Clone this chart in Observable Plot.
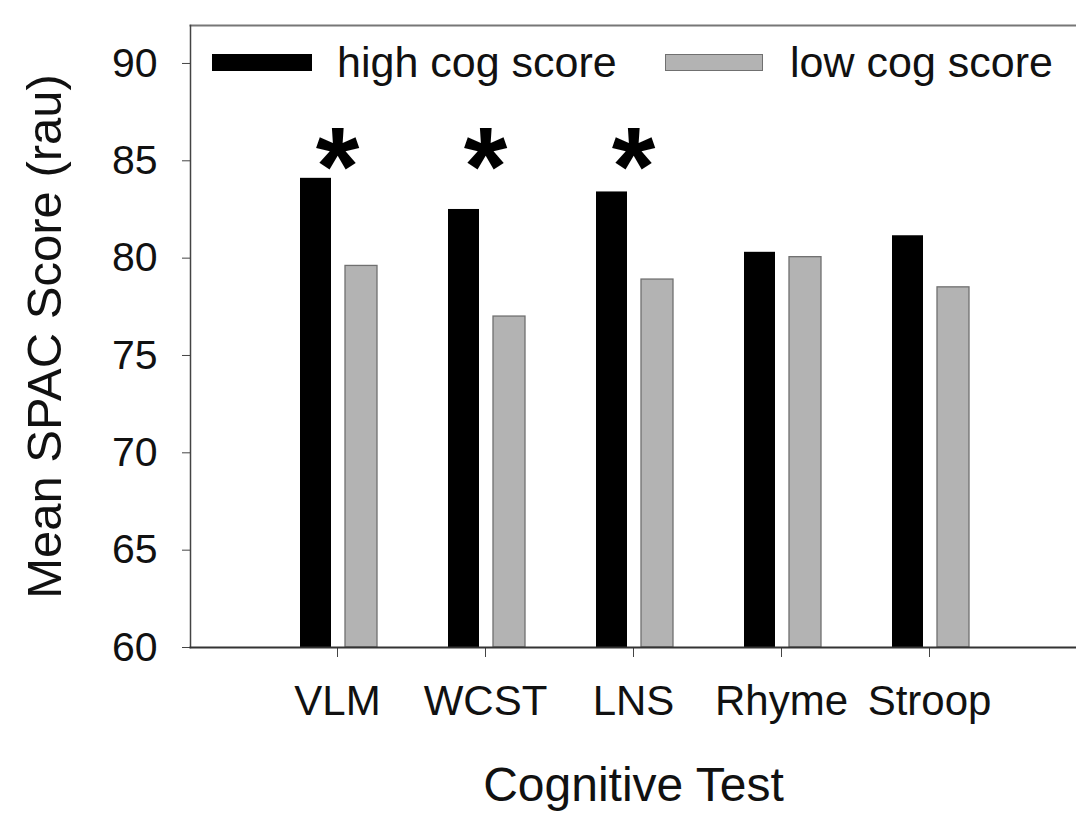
<!DOCTYPE html>
<html><head><meta charset="utf-8">
<script src="https://cdn.jsdelivr.net/npm/d3@7"></script>
<script src="https://cdn.jsdelivr.net/npm/@observablehq/plot@0.6"></script>
<style>
html,body{margin:0;padding:0;background:#fff;overflow:hidden}
#wrap{position:relative;width:1076px;height:817px;font-family:'Liberation Sans',Arial,sans-serif}
.sw{position:absolute;height:17px}
.lt{position:absolute;font-size:43px;line-height:43px;color:#111;white-space:nowrap}
g[aria-label="y-axis label"] text{font-size:49px}
g[aria-label="x-axis label"] text{font-size:48px}
</style></head><body><div id="wrap"></div>
<script>
const tests = ["VLM", "WCST", "LNS", "Rhyme", "Stroop"];
const highScores = [84.1, 82.5, 83.4, 80.3, 81.15];
const lowScores = [79.6, 77.0, 78.9, 80.05, 78.5];
const sigTests = ["VLM", "WCST", "LNS"];
const sigLevel = [85.6, 85.6, 85.6];
const yTicks = [60, 65, 70, 75, 80, 85, 90];
const seriesNames = ["high cog score", "low cog score"];

const highData = tests.map((t, i) => ({test: t, value: highScores[i]}));
const lowData = tests.map((t, i) => ({test: t, value: lowScores[i]}));
const sigData = sigTests.map((t, i) => ({test: t, y: sigLevel[i]}));

const chart = Plot.plot({
  width: 1076, height: 817,
  marginLeft: 190, marginRight: 0, marginTop: 25, marginBottom: 170,
  style: {fontFamily: "'Liberation Sans', Arial, sans-serif", fontSize: "41px", color: "#111", background: "#fff"},
  x: {domain: tests, paddingInner: 0, paddingOuter: 0.49},
  y: {domain: [60, 91.95]},
  marks: [
    Plot.barY(highData, {x: "test", y1: 60, y2: "value", fill: "#000", insetLeft: 37, insetRight: 80}),
    Plot.barY(lowData, {x: "test", y1: 60, y2: "value", fill: "#b3b3b3", stroke: "#707070", strokeWidth: 1.3, insetLeft: 82, insetRight: 34}),
    Plot.text(sigData, {x: "test", y: "y", text: () => "*", fontSize: 112, fontWeight: "bold", lineAnchor: "middle", dy: 20, fill: "#000"}),
    Plot.axisY({ticks: yTicks, tickSize: 8, tickPadding: 25, fontSize: 41, stroke: "#444", label: "Mean SPAC Score (rau)", labelAnchor: "center", labelOffset: 164, labelArrow: "none"}),
    Plot.axisX({tickSize: 10, tickPadding: 28, fontSize: 42, stroke: "#444", label: "Cognitive Test", labelAnchor: "center", labelOffset: 153, labelArrow: "none"}),
    Plot.frame({anchor: "top", stroke: "#777", strokeWidth: 2}),
    Plot.frame({anchor: "left", stroke: "#444", strokeWidth: 1.5}),
    Plot.frame({anchor: "bottom", stroke: "#333", strokeWidth: 2})
  ]
});
const wrap = document.getElementById("wrap");
wrap.appendChild(chart);

const legendItems = [
  {name: seriesNames[0], swLeft: 212, swW: 100, fill: "#000", border: "#000", textLeft: 337},
  {name: seriesNames[1], swLeft: 665, swW: 98, fill: "#b3b3b3", border: "#707070", textLeft: 790}
];
for (const it of legendItems) {
  const sw = document.createElement("div");
  sw.className = "sw";
  sw.style.left = it.swLeft + "px";
  sw.style.top = "54px";
  sw.style.width = it.swW + "px";
  sw.style.background = it.fill;
  sw.style.boxSizing = "border-box";
  sw.style.border = "1.5px solid " + it.border;
  wrap.appendChild(sw);
  const t = document.createElement("div");
  t.className = "lt";
  t.style.left = it.textLeft + "px";
  t.style.top = "41px";
  t.textContent = it.name;
  wrap.appendChild(t);
}
</script></body></html>
